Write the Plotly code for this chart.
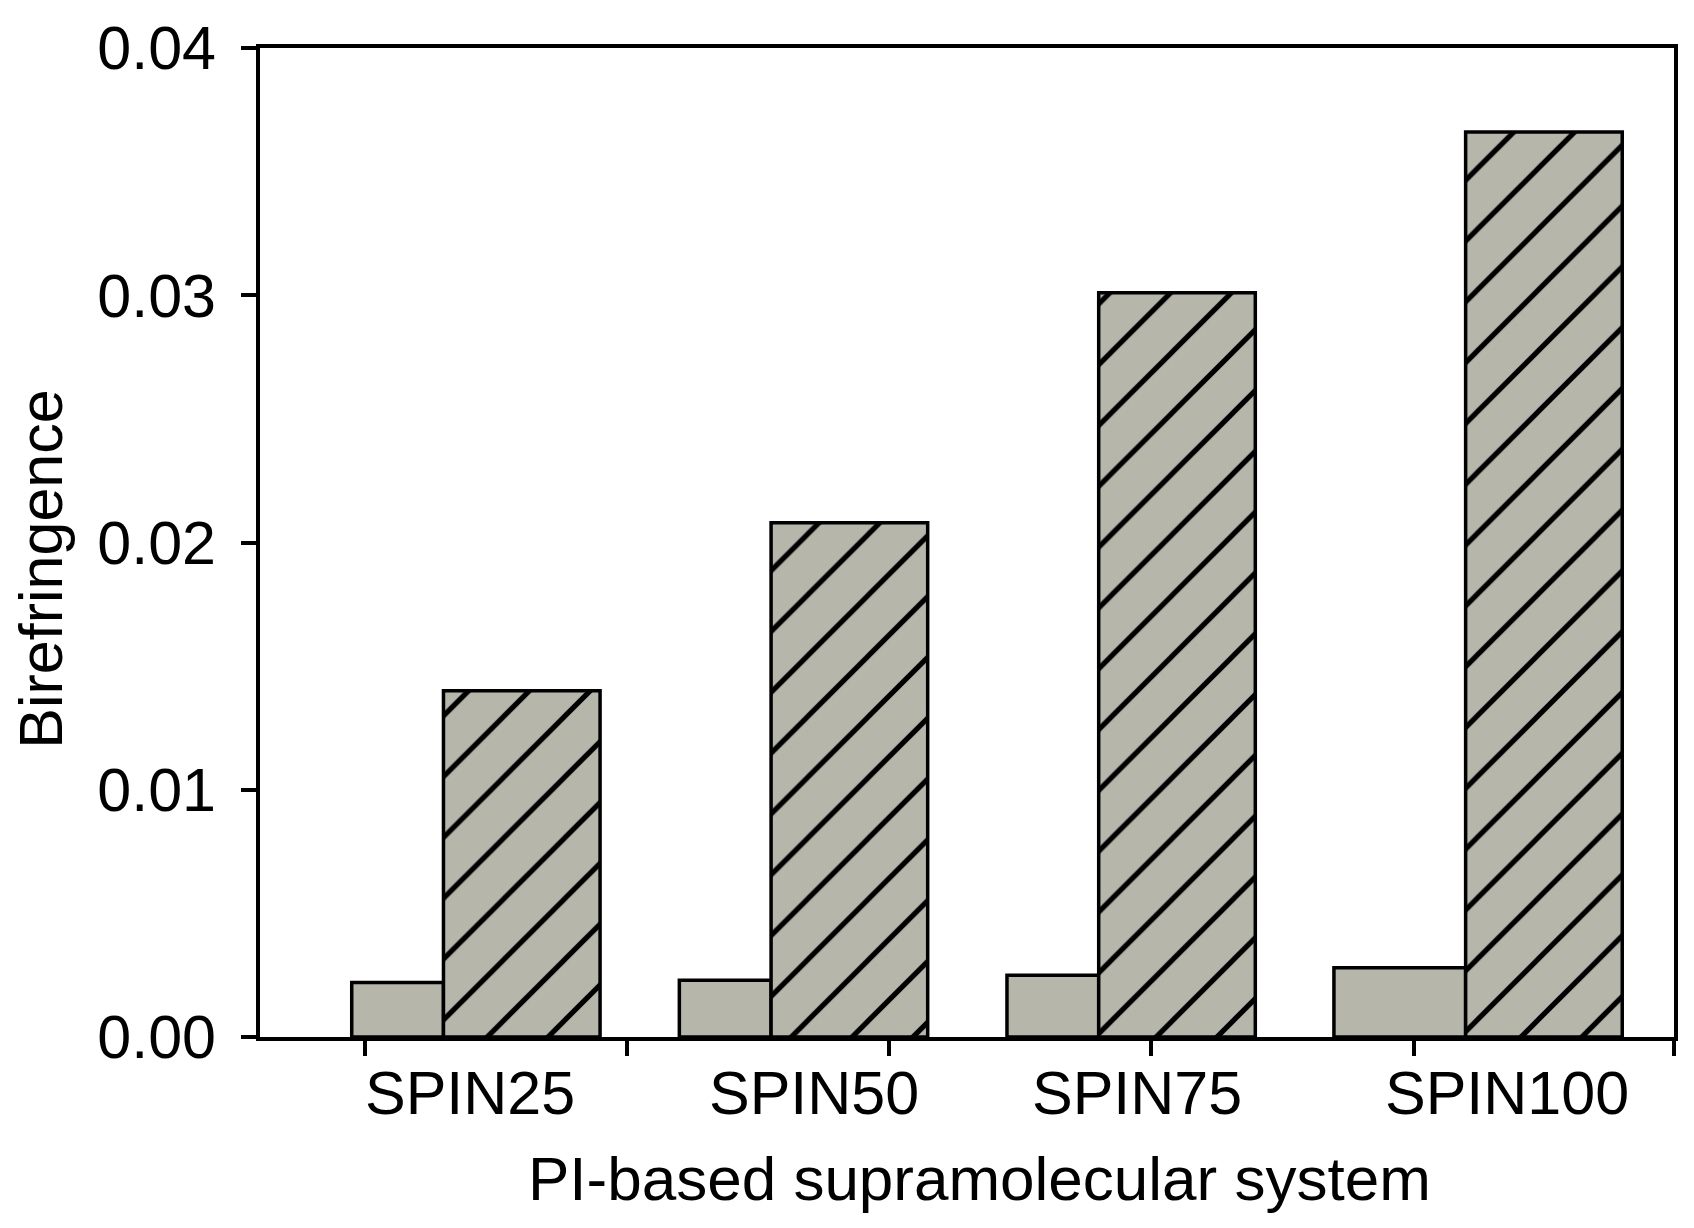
import plotly.graph_objects as go

# ---- data ----
categories = ["SPIN25", "SPIN50", "SPIN75", "SPIN100"]
series_plain = [0.0022, 0.0023, 0.0025, 0.0028]
series_hatched = [0.0140, 0.0208, 0.0301, 0.0366]
y_tick_values = [0.00, 0.01, 0.02, 0.03, 0.04]
y_tick_labels = ["0.00", "0.01", "0.02", "0.03", "0.04"]
x_title = "PI-based supramolecular system"
y_title = "Birefringence"

# ---- style ----
FILL = "#b6b6aa"
FONT = "Liberation Sans, Arial, Helvetica, sans-serif"
LW = 3.5
pos = list(range(len(categories)))

plain_offset = [-0.280, -0.280, -0.280, -0.282]
plain_width = [0.280, 0.280, 0.280, 0.402]
hatch_offset = [0.0, 0.0, 0.0, 0.120]
hatch_width = [0.478, 0.478, 0.478, 0.478]
x_tick_marks = [-0.2406, 0.5599, 1.3605, 2.1611, 2.9617, 3.756]
label_pos = [0.082, 1.131, 2.117, 3.245]

fig = go.Figure()
fig.add_trace(go.Bar(
    x=pos, y=series_plain, offset=plain_offset, width=plain_width,
    marker=dict(color=FILL, line=dict(color="black", width=LW)),
    showlegend=False,
))
fig.add_trace(go.Bar(
    x=pos, y=series_hatched, offset=hatch_offset, width=hatch_width,
    marker=dict(color=FILL, line=dict(color="black", width=LW),
                pattern=dict(shape="/", fgcolor="black", bgcolor=FILL,
                             size=43, solidity=0.12, fillmode="replace")),
    showlegend=False,
))

annotations = []
for c, xp in zip(categories, label_pos):
    annotations.append(dict(x=xp, y=0, xref="x", yref="paper", text=c,
                            showarrow=False, xanchor="center", yanchor="middle",
                            yshift=-56, font=dict(family=FONT, size=61, color="black")))
annotations.append(dict(x=0.509, y=0, xref="paper", yref="paper", text=x_title,
                        showarrow=False, xanchor="center", yanchor="middle",
                        yshift=-141, font=dict(family=FONT, size=62, color="black")))
annotations.append(dict(x=0, y=0.4725, xref="paper", yref="paper", text=y_title,
                        showarrow=False, xanchor="center", yanchor="middle",
                        xshift=-219, textangle=-90,
                        font=dict(family=FONT, size=61, color="black")))

fig.update_layout(
    width=1694, height=1228,
    margin=dict(l=260, r=20, t=48, b=191, pad=0),
    paper_bgcolor="white", plot_bgcolor="white",
    barmode="overlay",
    font=dict(family=FONT, color="black"),
    annotations=annotations,
    xaxis=dict(range=[-0.560, 3.756], tickmode="array", tickvals=x_tick_marks,
               showticklabels=False, ticks="outside", ticklen=15, tickwidth=LW,
               tickcolor="black", showline=True, linecolor="black", linewidth=LW,
               mirror=True, showgrid=False, zeroline=False, fixedrange=True),
    yaxis=dict(range=[0, 0.04], tickmode="array", tickvals=y_tick_values,
               ticktext=y_tick_labels, ticks="outside", ticklen=15, tickwidth=LW,
               tickcolor="black", showline=True, linecolor="black", linewidth=LW,
               mirror=True, showgrid=False, zeroline=False, ticklabelstandoff=13,
               tickfont=dict(family=FONT, size=61, color="black"), fixedrange=True),
)

fig.write_html("out.html", config={"displayModeBar": False},
               post_script="document.body.style.margin='0';")
